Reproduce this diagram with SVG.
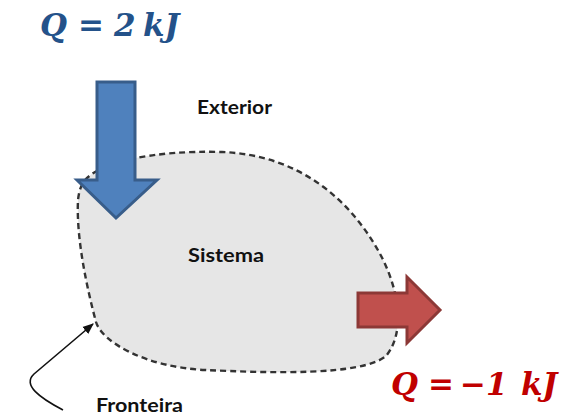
<svg xmlns="http://www.w3.org/2000/svg" width="576" height="418" viewBox="0 0 576 418">
<defs>
<style>
.lbl{font-family:Lato,"Open Sans","Liberation Sans",sans-serif;font-weight:bold;font-size:19px;fill:#111}
.eq{font-family:"DejaVu Serif","Liberation Serif",serif;font-weight:bold;font-style:italic;font-size:31px}
</style>
<marker id="ah" viewBox="0 0 10 10" refX="9" refY="5" markerWidth="7" markerHeight="7" orient="auto"><path d="M0,1 L10,5 L0,9 Z" fill="#111"/></marker>
</defs>
<rect width="576" height="418" fill="#fff"/>
<g id="sistema">
<path d="M85,180 C100,163 150,150 222,152 C300,155 350,200 379,252 C399,288 406,332 386,356 C362,376 270,373 205,370 C145,367 102,342 96,322 C88,292 76,240 78,200 C79,191 81,185 85,180 Z" fill="#e6e6e6" stroke="#333" stroke-width="2.4" stroke-dasharray="6,4"/>
<text class="lbl" x="188" y="262" textLength="76" lengthAdjust="spacingAndGlyphs">Sistema</text>
</g>
<g id="exterior"><text class="lbl" x="197" y="114" textLength="75" lengthAdjust="spacingAndGlyphs">Exterior</text></g>
<g id="fronteira"><text class="lbl" x="96" y="412" textLength="87" lengthAdjust="spacingAndGlyphs">Fronteira</text></g>
<g id="q-in">
<path d="M97,82 L135,82 L135,180 L157,180 L116,218 L77,180 L97,180 Z" fill="#4f81bd" stroke="#385d8a" stroke-width="3"/>
<text class="eq" y="36" fill="#24528a"><tspan x="40">Q</tspan><tspan x="78">=</tspan><tspan x="114">2</tspan><tspan x="143">kJ</tspan></text>
</g>
<g id="q-out">
<path d="M358,293 L407,293 L407,277 L440,310 L407,343 L407,327 L358,327 Z" fill="#c0504d" stroke="#8c3836" stroke-width="3"/>
<text class="eq" y="395" fill="#c00000"><tspan x="391">Q</tspan><tspan x="428">=</tspan><tspan x="460">−1</tspan><tspan x="521">kJ</tspan></text>
</g>
<g id="connectors">
<path d="M63,410 C40,398 22,385 34,374 L93,324" fill="none" stroke="#111" stroke-width="1.6" marker-end="url(#ah)"/>
</g>
</svg>
